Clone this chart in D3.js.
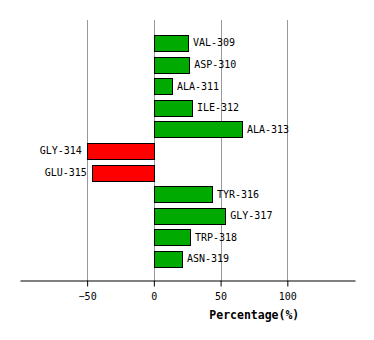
<!DOCTYPE html>
<html><head><meta charset="utf-8">
<script src="https://cdn.jsdelivr.net/npm/d3@7"></script>
<style>body{margin:0;background:#fff}svg{display:block}</style>
</head><body>
<script>
const categories = ["VAL-309","ASP-310","ALA-311","ILE-312","ALA-313","GLY-314","GLU-315","TYR-316","GLY-317","TRP-318","ASN-319"];
const values = [25.5, 26.5, 13.5, 28.5, 66, -50.2, -46.5, 43.5, 53.5, 27, 21];
const tickValues = [-50, 0, 50, 100];
const axisTitle = "Percentage(%)";

const W = 374, H = 340;
const svg = d3.select("body").append("svg").attr("width", W).attr("height", H);

const x = d3.scaleLinear().domain([-100.3, 150.7]).range([20, 355]);
const y = d3.scaleBand().domain(categories).range([32.1, 269.7]).paddingInner(0.27).paddingOuter(0.135);
const axisY = 280.5;

// grid lines
svg.append("g").selectAll("line").data(tickValues).join("line")
  .attr("x1", d => Math.round(x(d)) + 0.5).attr("x2", d => Math.round(x(d)) + 0.5)
  .attr("y1", 20).attr("y2", axisY)
  .attr("stroke", "#999").attr("stroke-width", 1);

// bars
svg.append("g").selectAll("rect").data(categories).join("rect")
  .attr("x", (d, i) => Math.round(x(Math.min(0, values[i]))) + 0.5)
  .attr("y", d => Math.round(y(d)) + 0.5)
  .attr("width", (d, i) => Math.round(Math.abs(x(values[i]) - x(0))))
  .attr("height", Math.round(y.bandwidth()))
  .attr("fill", (d, i) => values[i] >= 0 ? "#00aa00" : "#ff0000")
  .attr("stroke", "#000").attr("stroke-width", 1);

// labels
svg.append("g").selectAll("text").data(categories).join("text")
  .attr("x", (d, i) => values[i] >= 0 ? x(values[i]) + 5 : x(values[i]) - 5)
  .attr("y", d => y(d) + y.bandwidth() / 2)
  .attr("dy", "0.35em")
  .attr("text-anchor", (d, i) => values[i] >= 0 ? "start" : "end")
  .attr("font-family", "DejaVu Sans Mono, monospace")
  .attr("font-size", "10px")
  .attr("fill", "#000")
  .text(d => d);

// axis
const axis = d3.axisBottom(x).tickValues(tickValues).tickSize(6).tickPadding(6).tickSizeOuter(0);
const ag = svg.append("g").attr("transform", `translate(0,${axisY})`).call(axis);
ag.select(".domain").attr("stroke", "#000");
ag.selectAll(".tick line").attr("stroke", "#000");
ag.selectAll(".tick text").attr("font-family", "DejaVu Sans Mono, monospace").attr("font-size", "10px").attr("fill", "#000");

svg.append("text").attr("x", 254.3).attr("y", 315).attr("dy", "0.35em")
  .attr("text-anchor", "middle")
  .attr("font-family", "DejaVu Sans Mono, monospace")
  .attr("font-weight", "bold").attr("font-size", "11.5px")
  .text(axisTitle);
</script>
</body></html>
